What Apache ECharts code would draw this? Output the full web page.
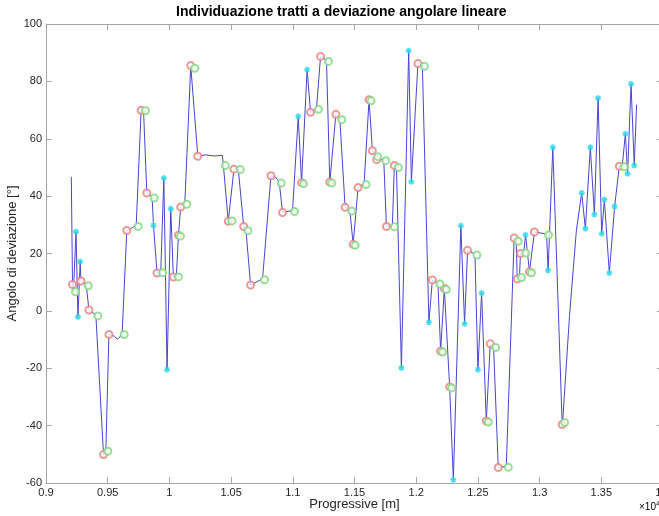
<!DOCTYPE html>
<html>
<head>
<meta charset="utf-8">
<style>
  body, html { margin: 0; padding: 0; width: 100%; height: 100%; overflow: hidden; background: #fff; }
  #chart { width: 659px; height: 516px; }
</style>
</head>
<body>
<div id="chart"></div>
<script src="https://cdn.jsdelivr.net/npm/echarts@6/dist/echarts.min.js"></script>
<script>
  // progressive [m] and deviation angle [deg] of the polyline
  const progressive = [
    9205, 9215, 9223, 9243, 9259, 9277, 9283, 9326, 9348, 9404,
    9466, 9485, 9510, 9553, 9577, 9597, 9617, 9655, 9731, 9771,
    9790, 9817, 9860, 9871, 9900, 9930, 9955, 9981, 10011, 10032,
    10057, 10073, 10092, 10125, 10173, 10189, 10230, 10289, 10362, 10429,
    10437, 10477, 10491, 10523, 10558, 10602, 10620, 10658, 10755, 10823,
    10863, 10890, 10917, 10998, 11044, 11071, 11116, 11144, 11192, 11225,
    11273, 11300, 11349, 11381, 11424, 11462, 11489, 11529, 11578, 11618,
    11645, 11672, 11680, 11737, 11759, 11807, 11823, 11840, 11880, 11939,
    11961, 12014, 12050, 12103, 12131, 12176, 12198, 12228, 12271, 12301,
    12362, 12392, 12416, 12476, 12500, 12530, 12568, 12600, 12627, 12665,
    12730, 12794, 12810, 12819, 12837, 12845, 12872, 12886, 12918, 12958,
    13056, 13069, 13107, 13183, 13187, 13242, 13298, 13341, 13371, 13411,
    13444, 13474, 13503, 13525, 13565, 13608, 13646, 13670, 13695, 13713,
    13741, 13767, 13786
  ];
  const angle = [
    46.7, 9.2, 7.0, 27.6, -2.1, 17.2, 10.4, 9.1, 0.3, -1.4,
    -50.1, -48.6, -8.2, -8.8, -9.8, -9.2, -7.9, 28.0, 29.8, 69.9,
    70.1, 41.1, 39.7, 29.8, 13.2, 13.6, 46.3, -20.5, 35.6, 11.8,
    12.2, 26.4, 36.2, 37.5, 85.5, 84.9, 53.9, 54.4, 54.0, 54.2,
    51.0, 31.2, 31.7, 49.4, 49.6, 29.4, 28.3, 9.0, 11.2, 47.1,
    46.5, 44.9, 34.3, 35.0, 67.8, 44.7, 84.1, 69.2, 70.6, 88.7,
    87.3, 44.9, 68.5, 67.0, 36.1, 35.2, 23.2, 43.0, 44.4, 73.6,
    55.8, 54.1, 52.7, 52.7, 29.4, 29.7, 50.7, 50.3, -19.9, 90.7,
    45.0, 86.2, 85.6, -4.0, 10.8, 9.7, -14.0, 7.8, -26.5, -58.9,
    29.7, -4.5, 21.1, 19.8, -20.5, 6.2, -38.4, -11.5, -12.4, -54.6,
    -54.2, 25.4, 24.6, 11.1, 12.0, 20.0, 20.5, 26.5, 13.6, 27.5,
    26.8, 14.1, 57.0, -39.6, -38.6, -2.0, 28.0, 41.1, 28.7, 57.0,
    33.6, 74.2, 26.9, 38.8, 13.2, 36.4, 50.4, 50.6, 61.7, 47.8,
    79.1, 50.7, 71.9
  ];

  // indices (into the polyline) of segment starts, segment ends and isolated points
  const startIdx = [1, 6, 8, 10, 12, 17, 19, 21, 24, 29, 31, 32, 34, 36, 41, 43, 45, 47, 49, 52,
    55, 57, 59, 61, 62, 64, 66, 67, 69, 70, 72, 74, 76, 81, 84, 86, 87, 88, 92, 96, 97, 99,
    101, 103, 105, 108, 109, 113, 126];
  const endIdx = [2, 7, 9, 11, 16, 18, 20, 22, 25, 30, 31, 33, 35, 40, 42, 44, 46, 48, 51, 53,
    55, 58, 60, 61, 63, 65, 66, 68, 69, 71, 73, 75, 77, 82, 85, 86, 87, 88, 93, 96, 98, 100,
    102, 104, 106, 108, 110, 114, 127];
  const pointIdx = [3, 4, 5, 23, 26, 27, 28, 54, 56, 78, 79, 80, 83, 89, 90, 91, 94, 95, 107,
    111, 112, 117, 118, 119, 120, 121, 122, 123, 124, 125, 128, 129, 130, 131];

  const xTicks = { min: 9000, max: 14000, step: 500 };
  const yTicks = { min: -60, max: 100, step: 20 };

  const pts = (idx) => idx.map((i) => [progressive[i], angle[i]]);
  const lineData = progressive.map((x, i) => [x, angle[i]]);

  const chart = echarts.init(document.getElementById("chart"));
  const axisCol = "#a6a6a6";
  const txtCol = "#262626";
  const font = "Liberation Sans, Arial, sans-serif";

  const option = {
    animation: false,
    backgroundColor: "#fff",
    grid: {
      left: 46, top: 24, width: 617, height: 459,
      containLabel: false, outerBoundsMode: "none"
    },
    graphic: [
      {
        type: "text", left: 354 - 178, top: 5,
        style: {
          text: "Individuazione tratti a deviazione angolare lineare",
          font: "bold 14px " + font, fill: "#000"
        }
      },
      {
        type: "text", left: 639, top: 500,
        style: {
          text: "{a|×10}{b|4}",
          rich: {
            a: { fontSize: 10, fontFamily: font, color: txtCol },
            b: { fontSize: 8, fontFamily: font, color: txtCol, verticalAlign: "top", padding: [0, 0, 6, 0] }
          }
        }
      }
    ],
    xAxis: [
      {
        type: "value", min: xTicks.min, max: xTicks.max, interval: xTicks.step,
        position: "bottom",
        name: "Progressive [m]", nameLocation: "middle", nameGap: 15,
        nameMoveOverlap: false,
        nameTextStyle: { color: txtCol, fontSize: 13, fontFamily: font },
        axisLine: { onZero: false, lineStyle: { color: axisCol, width: 1 } },
        axisTick: { inside: true, length: 6, lineStyle: { color: axisCol } },
        axisLabel: {
          color: txtCol, fontSize: 11, fontFamily: font, margin: 4,
          hideOverlap: false,
          formatter: (v) => String(v / 10000)
        },
        splitLine: { show: false }
      },
      {
        type: "value", min: xTicks.min, max: xTicks.max, interval: xTicks.step,
        position: "top",
        axisLine: { onZero: false, lineStyle: { color: axisCol, width: 1 } },
        axisTick: { inside: true, length: 6, lineStyle: { color: axisCol } },
        axisLabel: { show: false },
        splitLine: { show: false }
      }
    ],
    yAxis: [
      {
        type: "value", min: yTicks.min, max: yTicks.max, interval: yTicks.step,
        position: "left",
        name: "Angolo di deviazione [°]", nameLocation: "middle", nameGap: 27,
        nameMoveOverlap: false,
        nameTextStyle: { color: txtCol, fontSize: 13, fontFamily: font },
        axisLine: { onZero: false, lineStyle: { color: axisCol, width: 1 } },
        axisTick: { inside: true, length: 6, lineStyle: { color: axisCol } },
        axisLabel: { color: txtCol, fontSize: 11, fontFamily: font, margin: 4 },
        splitLine: { show: false }
      },
      {
        type: "value", min: yTicks.min, max: yTicks.max, interval: yTicks.step,
        position: "right",
        axisLine: { onZero: false, lineStyle: { color: axisCol, width: 1 } },
        axisTick: { inside: true, length: 6, lineStyle: { color: axisCol } },
        axisLabel: { show: false },
        splitLine: { show: false }
      }
    ],
    series: [
      {
        type: "line", data: lineData, symbol: "none",
        lineStyle: { color: "#4a45d0", width: 1 }, z: 2
      },
      {
        type: "scatter", data: pts(startIdx), symbol: "emptyCircle", symbolSize: 7,
        itemStyle: { color: "#e88080", borderWidth: 0.8 }, z: 3
      },
      {
        type: "scatter", data: pts(endIdx), symbol: "emptyCircle", symbolSize: 7,
        symbolOffset: [2, 1],
        itemStyle: { color: "#7ed87e", borderWidth: 0.8 }, z: 4
      },
      {
        type: "scatter", data: pts(pointIdx),
        symbol: "path://M5 0V10M0 5H10M1.5 1.5L8.5 8.5M1.5 8.5L8.5 1.5",
        symbolSize: 6,
        itemStyle: { color: "rgba(0,0,0,0)", borderColor: "#22d8ea", borderWidth: 1.5 }, z: 5
      }
    ]
  };
  chart.setOption(option);
</script>
</body>
</html>
